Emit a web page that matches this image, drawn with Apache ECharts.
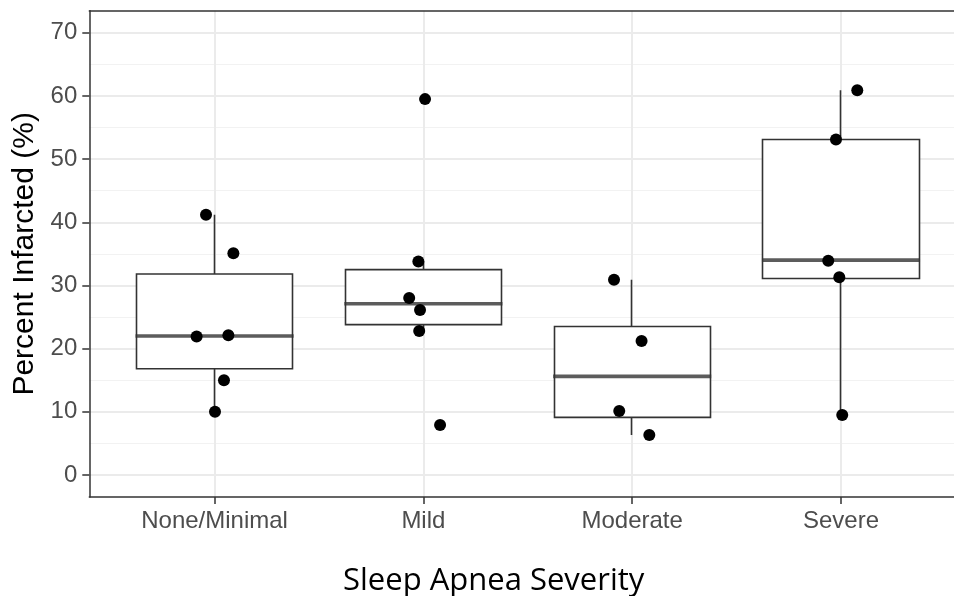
<!DOCTYPE html>
<html lang="en">
  <head>
    <meta charset="UTF-8" />
    <title>Percent Infarcted by Sleep Apnea Severity</title>
    <script src="https://cdn.jsdelivr.net/npm/echarts@6/dist/echarts.min.js"></script>
    <style>
      html, body { margin: 0; padding: 0; background: #fff; }
      #chart { width: 954px; height: 596px; }
    </style>
  </head>
  <body>
    <div id="chart"></div>
    <script>
      const categories = ['None/Minimal', 'Mild', 'Moderate', 'Severe']

      // [lower whisker, Q1, median, Q3, upper whisker]
      const boxStats = [
        [10.0, 16.8, 22.0, 31.8, 41.2],
        [22.8, 23.8, 27.1, 32.5, 33.8],
        [6.3, 9.1, 15.6, 23.5, 30.9],
        [9.5, 31.1, 34.0, 53.1, 60.9]
      ]

      // individual observations per group, with the horizontal jitter seen in the picture
      const pointValues = [
        [41.2, 35.1, 21.9, 22.1, 15.0, 10.0],
        [59.5, 33.8, 28.0, 26.1, 22.8, 7.9],
        [30.9, 21.2, 10.1, 6.3],
        [60.9, 53.1, 33.9, 31.3, 9.5]
      ]
      const pointJitter = [
        [-0.041, 0.09, -0.086, 0.066, 0.045, 0.002],
        [0.008, -0.024, -0.068, -0.016, -0.02, 0.08],
        [-0.087, 0.045, -0.062, 0.082],
        [0.078, -0.024, -0.061, -0.008, 0.006]
      ]

      const yTicks = { min: 0, max: 70, step: 10 }

      // panel geometry (ggplot style: 0.6 category expansion, y from -3.5 to 73.5)
      // the picture is cropped on the right, so the panel runs past the canvas edge
      const W = 954
      const H = 596
      const panelLeft = 89.3
      const unit = 208.8
      const panelTop = 10.7
      const panelBottom = 497
      const yScale = (panelBottom - panelTop) / 77
      const xMaxVisible = -0.6 + (W - panelLeft) / unit

      const chart = echarts.init(document.getElementById('chart'), null, { renderer: 'canvas' })

      const candleData = boxStats.map(s => [s[1], s[3], s[0], s[4]])
      const medianData = boxStats.map((s, i) => [i, s[2]])
      const pointData = []
      pointValues.forEach((vals, g) => {
        vals.forEach((v, j) => pointData.push([g + pointJitter[g][j], v]))
      })
      const categoryPositions = categories.map((c, i) => i)

      const tickFont = 'Liberation Sans'
      const gridGrey = '#ebebeb'
      const dark = '#333333'
      const borderLine = { show: true, onZero: false, lineStyle: { color: dark, width: 1.5 } }
      const lineOnly = {
        axisLine: borderLine,
        axisTick: { show: false },
        axisLabel: { show: false },
        splitLine: { show: false }
      }
      const noBounds = { outerBoundsMode: 'none', containLabel: false }

      const option = {
        animation: false,
        backgroundColor: '#ffffff',
        title: {
          text: 'Sleep Apnea Severity',
          left: 343,
          top: 566,
          padding: 0,
          textStyle: {
            fontFamily: 'Open Sans',
            fontSize: 31,
            fontWeight: 'normal',
            color: '#000'
          }
        },
        grid: [
          // panel: border lines + scatter points
          Object.assign({ left: panelLeft, right: 0, top: panelTop, bottom: H - panelBottom }, noBounds),
          // y ticks 0..70
          Object.assign({
            left: panelLeft,
            right: 0,
            top: panelTop + 3.5 * yScale,
            bottom: H - (panelBottom - 3.5 * yScale)
          }, noBounds),
          // category positions
          Object.assign({
            left: panelLeft + 0.6 * unit,
            right: W - (panelLeft + 3.6 * unit),
            top: panelTop,
            bottom: H - panelBottom
          }, noBounds)
        ],
        xAxis: [
          Object.assign({ gridIndex: 0, type: 'value', min: -0.6, max: xMaxVisible, position: 'bottom' }, lineOnly, {
            axisTick: {
              show: true,
              customValues: categoryPositions,
              length: 7,
              lineStyle: { color: dark, width: 1.5 }
            }
          }),
          Object.assign({ gridIndex: 0, type: 'value', min: -0.6, max: xMaxVisible, position: 'top' }, lineOnly),
          { gridIndex: 1, type: 'value', min: 0, max: 1, show: false },
          {
            gridIndex: 2,
            type: 'category',
            data: categories,
            boundaryGap: false,
            position: 'bottom',
            axisLine: { show: false, onZero: false },
            axisTick: { show: false },
            axisLabel: { fontFamily: tickFont, fontSize: 24, color: '#4d4d4d', margin: 12 },
            splitLine: { show: true, lineStyle: { color: gridGrey, width: 2 } }
          }
        ],
        yAxis: [
          Object.assign({ gridIndex: 0, type: 'value', min: -3.5, max: 73.5, position: 'left' }, lineOnly),
          {
            gridIndex: 1,
            type: 'value',
            min: yTicks.min,
            max: yTicks.max,
            interval: yTicks.step,
            position: 'left',
            name: 'Percent Infarcted (%)',
            nameLocation: 'middle',
            nameGap: 50,
            nameTextStyle: { fontFamily: tickFont, fontSize: 30, color: '#000' },
            axisLine: { show: false, onZero: false },
            axisTick: { show: true, length: 7, lineStyle: { color: dark, width: 1.5 } },
            axisLabel: { fontFamily: tickFont, fontSize: 24, color: '#4d4d4d', margin: 12 },
            splitLine: { show: true, lineStyle: { color: gridGrey, width: 2 } },
            minorTick: { show: false, splitNumber: 2 },
            minorSplitLine: { show: true, lineStyle: { color: '#f2f2f2', width: 1.2 } }
          },
          { gridIndex: 2, type: 'value', min: -3.5, max: 73.5, show: false }
        ],
        series: [
          {
            name: 'box',
            type: 'candlestick',
            xAxisIndex: 3,
            yAxisIndex: 2,
            barWidth: 0.75 * unit,
            itemStyle: {
              color: '#ffffff',
              color0: '#ffffff',
              borderColor: dark,
              borderColor0: dark,
              borderWidth: 1.6
            },
            data: candleData,
            z: 2
          },
          {
            name: 'median',
            type: 'scatter',
            xAxisIndex: 3,
            yAxisIndex: 2,
            symbol: 'rect',
            symbolSize: [0.75 * unit + 1.5, 3.6],
            itemStyle: { color: dark },
            data: medianData,
            z: 3
          },
          {
            name: 'points',
            type: 'scatter',
            xAxisIndex: 0,
            yAxisIndex: 0,
            symbolSize: 12,
            itemStyle: { color: '#000', opacity: 1 },
            clip: false,
            data: pointData,
            z: 4
          }
        ]
      }

      chart.setOption(option)
    </script>
  </body>
</html>
